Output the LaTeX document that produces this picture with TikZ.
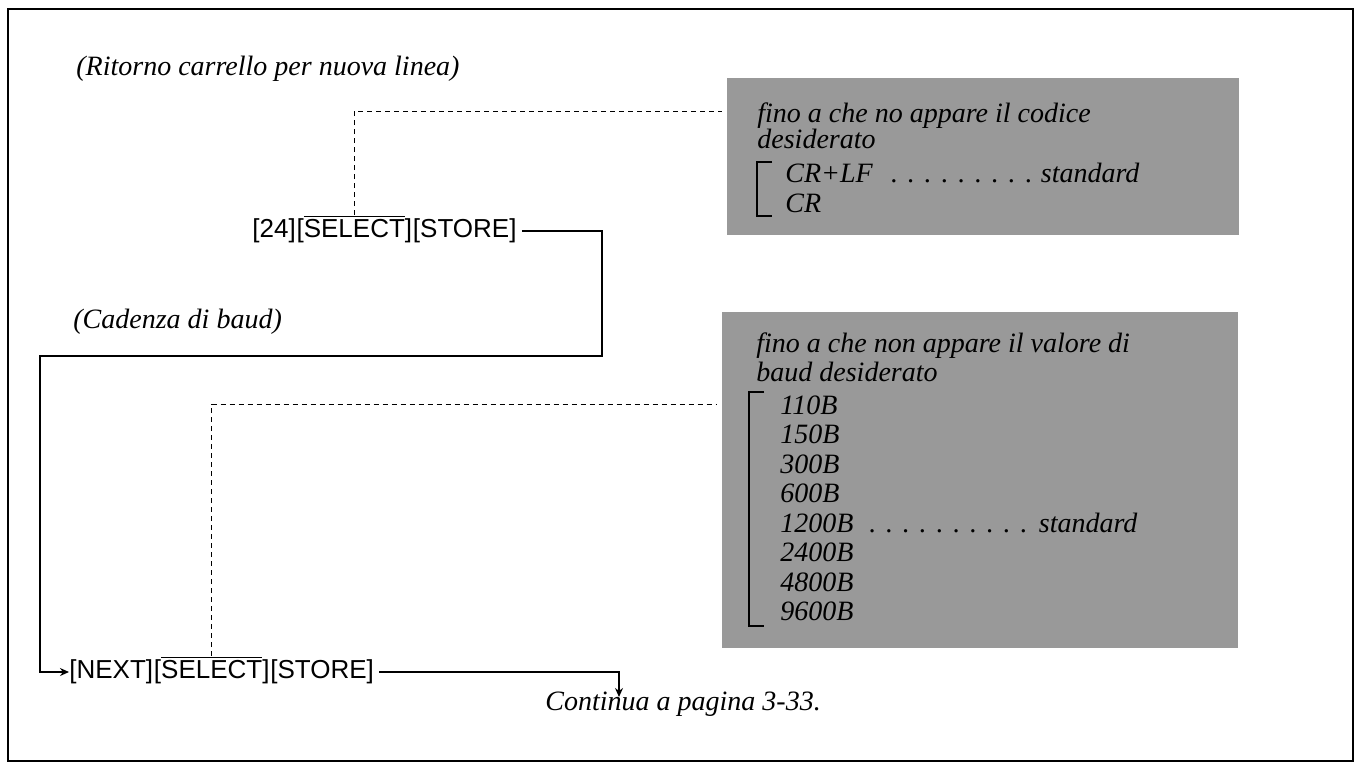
\documentclass[tikz,border=0pt]{standalone}
\usepackage{fontspec}
\setmainfont{Liberation Serif}
\setsansfont{Liberation Sans}
\usepackage{tikz}
\usetikzlibrary{arrows.meta}

\newcommand{\dotlead}{\leaders\hbox to 0.6em{\hss.\hss}\hfill}

\begin{document}
\begin{tikzpicture}[x=0.5pt,y=-0.5pt,
  keytxt/.style={inner sep=0pt,font=\sffamily\fontsize{13}{13}\selectfont},
  note/.style={inner sep=0pt,font=\fontsize{14}{14}\selectfont\itshape},
  graybox/.style={fill=black!40,draw=none,inner sep=0pt},
  flow/.style={line width=0.7pt},
  tip/.style={-{Stealth[length=4.5pt,width=4pt]}},
  guide/.style={line width=0.5pt,dash pattern=on 2.5pt off 2pt}]

  \useasboundingbox (0,0) rectangle (1358,766);
  % cornice
  \draw[line width=1pt] (8,9) rectangle (1353,761);

  % titoli delle due impostazioni
  \node[note,anchor=base west] (rit) at (76,75) {(Ritorno carrello per nuova linea)};
  \node[note,anchor=base west] (cad) at (73,328) {(Cadenza di baud)};

  % riquadri grigi
  \node[graybox,minimum width=256pt,minimum height=78.5pt] (box1) at (983,156.5) {};
  \node[graybox,minimum width=258pt,minimum height=168pt] (box2) at (980,480) {};

  % testo del primo riquadro
  \node[note,anchor=base west] (f1) at (757,122) {fino a che no appare il codice};
  \node[note,anchor=base west] (f1b) at (757,148) {desiderato};
  \node[note,anchor=base west] (crlf) at (785,182) {\hbox to 177pt{CR+LF\ \dotlead standard}};
  \node[note,anchor=base west] (cr) at (785,212) {CR};
  \draw[flow] (772,162) -- (757,162) -- (757,216) -- (772,216);

  % testo del secondo riquadro
  \node[note,anchor=base west] (f2) at (756,352) {fino a che non appare il valore di};
  \node[note,anchor=base west] (f2b) at (756,381) {baud desiderato};
  \foreach \v/\y in {110B/414,150B/443.5,300B/473,600B/502.5,2400B/561.5,4800B/591,9600B/620.5}
    \node[note,anchor=base west] (r\v) at (780,\y) {\v};
  \node[note,anchor=base west] (r1200B) at (780,532) {\hbox to 178.5pt{1200B\dotlead standard}};
  \draw[flow] (764,392) -- (749,392) -- (749,626) -- (764,626);

  % sequenze di tasti
  \node[keytxt,anchor=west] (k24) at (252,231) {[24]};
  \node[keytxt,anchor=base west] (sel1) at (k24.base east) {[$\overline{\hbox{SELECT}}$]};
  \node[keytxt,anchor=base west] (sto1) at (sel1.base east) {[STORE]};

  \node[keytxt,anchor=west] (knext) at (69,672) {[NEXT]};
  \node[keytxt,anchor=base west] (sel2) at (knext.base east) {[$\overline{\hbox{SELECT}}$]};
  \node[keytxt,anchor=base west] (sto2) at (sel2.base east) {[STORE]};

  \node[note,anchor=base west] (cont) at (545,710) {Continua a pagina 3-33.};

  % collegamenti
  \coordinate (c1) at (602,356);
  \coordinate (c2) at (40,356);
  \coordinate (c3) at (619,697);
  \draw[flow,tip] ([xshift=2.5pt]sto1.east) -| (c1) -- (c2) |- (knext.west);
  \draw[flow,tip] ([xshift=2.5pt]sto2.east) -| (c3);

  % linee tratteggiate verso i riquadri
  \coordinate (d1) at (722,111);
  \coordinate (d2) at (716,404);
  \draw[guide] (sel1.north) |- (d1);
  \draw[guide] (sel2.north) |- (d2);
\end{tikzpicture}
\end{document}
